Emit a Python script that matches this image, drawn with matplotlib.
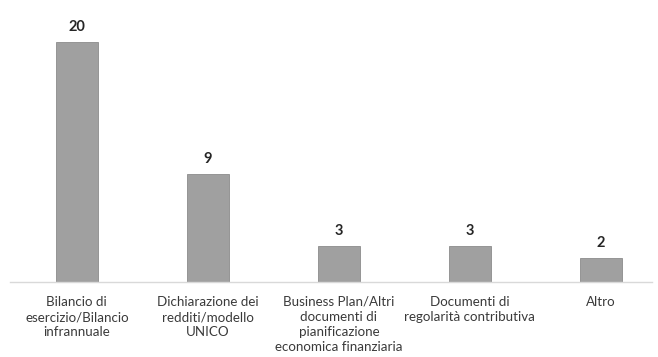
import matplotlib.pyplot as plt

categories = [
    "Bilancio di\nesercizio/Bilancio\ninfrannuale",
    "Dichiarazione dei\nredditi/modello\nUNICO",
    "Business Plan/Altri\ndocumenti di\npianificazione\neconomica finanziaria",
    "Documenti di\nregolarità contributiva",
    "Altro",
]
values = [20, 9, 3, 3, 2]

plt.rcParams['font.family'] = ['Lato', 'DejaVu Sans']

fig = plt.figure(figsize=(6.58, 3.57), dpi=100)
ax = fig.add_axes([10 / 658, 75 / 357, 642 / 658, 240 / 357])

x = range(len(values))
bars = ax.bar(x, values, width=0.32, color='#a0a0a0', edgecolor='#8c8c8c', linewidth=0.6)

for b, v in zip(bars, values):
    ax.text(b.get_x() + b.get_width() / 2, v + 0.7, str(v), ha='center', va='bottom',
            fontsize=10.5, fontweight='bold', color='#262626', clip_on=False)

ax.set_xlim(-0.51, 4.39)
ax.set_ylim(0, 20)
ax.set_xticks(list(x))
ax.set_xticklabels(categories, fontsize=9.6, color='#3a3a3a', linespacing=1.32)
ax.tick_params(axis='x', length=0, pad=10)
ax.set_yticks([])
for s in ['top', 'left', 'right']:
    ax.spines[s].set_visible(False)
ax.spines['bottom'].set_color('#d9d9d9')
ax.spines['bottom'].set_linewidth(1.0)

fig.savefig('out.png', dpi=100)
